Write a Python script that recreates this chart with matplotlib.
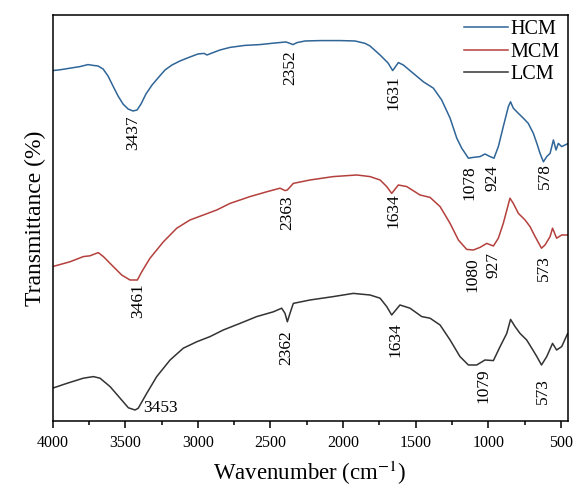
import numpy as np
import matplotlib
matplotlib.use("Agg")
import matplotlib.pyplot as plt
from matplotlib.ticker import MultipleLocator

plt.rcParams['font.family'] = ['Liberation Serif', 'DejaVu Serif']
plt.rcParams['mathtext.fontset'] = 'stix'

# FTIR spectra (transmittance in arbitrary offset units)
wn_hcm = [4000, 3948, 3880, 3811, 3756, 3721, 3687, 3652, 3618, 3584, 3549, 3515,
          3480, 3446, 3418, 3391, 3357, 3315, 3274, 3226, 3178, 3123, 3054, 2999,
          2957, 2937, 2902, 2847, 2778, 2675, 2572, 2469, 2393, 2366, 2345, 2317,
          2262, 2159, 2021, 1918, 1849, 1815, 1746, 1691, 1659, 1620, 1586, 1517,
          1448, 1379, 1322, 1264, 1218, 1184, 1138, 1104, 1058, 1024, 989, 962,
          932, 898, 863, 848, 829, 794, 760, 726, 691, 667, 645, 622, 599, 576,
          553, 535, 519, 496, 456]
t_hcm = [87.6, 87.8, 88.2, 88.6, 89.1, 88.9, 88.75, 88.0, 86.25, 83.75, 81.25, 79.25,
         78.0, 77.5, 77.75, 79.25, 81.75, 84.0, 85.75, 87.75, 89.0, 90.0, 91.0, 91.75,
         91.9, 91.5, 92.0, 92.75, 93.4, 93.9, 94.1, 94.5, 94.75, 94.4, 94.1, 94.6,
         95.0, 95.1, 95.1, 95.0, 94.4, 93.75, 91.5, 89.5, 87.6, 89.6, 89.0, 86.9,
         84.8, 83.2, 80.25, 75.7, 70.7, 68.2, 65.7, 65.9, 66.1, 66.75, 66.1, 65.7,
         68.6, 73.6, 78.6, 79.8, 78.2, 76.9, 75.7, 74.4, 71.9, 69.4, 66.9, 64.8, 66.1, 66.9,
         70.25, 67.75, 69.4, 68.6, 69.3]

wn_mcm = [4000, 3880, 3788, 3742, 3685, 3650, 3582, 3524, 3467, 3416, 3386, 3329,
          3237, 3145, 3054, 2962, 2870, 2778, 2641, 2526, 2434, 2400, 2384, 2343,
          2228, 2068, 1906, 1815, 1746, 1700, 1666, 1620, 1562, 1471, 1402, 1333,
          1264, 1207, 1150, 1104, 1058, 1012, 966, 932, 898, 852, 829, 794, 748,
          714, 679, 635, 611, 576, 559, 531, 496, 456]
t_mcm = [38.6, 39.8, 41.1, 41.3, 42.1, 41.1, 38.6, 36.5, 35.25, 35.25, 37.3, 40.7,
         44.8, 48.2, 50.25, 51.5, 52.75, 54.4, 56.1, 57.3, 58.2, 57.6, 57.75, 59.4,
         60.25, 61.1, 61.5, 61.1, 60.25, 58.6, 56.9, 59.0, 58.6, 56.5, 55.9, 53.6,
         49.4, 45.25, 42.9, 42.75, 43.4, 44.4, 43.75, 45.7, 49.4, 55.7, 54.4, 51.9, 50.25,
         48.6, 46.1, 43.2, 44.0, 46.1, 48.2, 45.7, 46.5, 46.5]

wn_lcm = [4000, 3902, 3788, 3719, 3673, 3604, 3535, 3478, 3432, 3410, 3352, 3283,
          3191, 3100, 3008, 2916, 2825, 2710, 2595, 2480, 2423, 2400, 2384, 2366,
          2343, 2228, 2068, 1930, 1815, 1746, 1700, 1666, 1609, 1540, 1459, 1402,
          1333, 1264, 1196, 1138, 1081, 1024, 966, 920, 874, 848, 817, 783, 737,
          702, 667, 635, 599, 559, 531, 496, 456]
t_lcm = [8.2, 9.4, 10.7, 11.1, 10.7, 8.6, 5.7, 3.3, 2.75, 3.2, 6.9, 11.1,
         15.25, 18.2, 19.8, 21.1, 22.75, 24.4, 26.1, 27.3, 28.2, 26.9, 24.8, 26.9,
         29.4, 30.25, 31.1, 31.9, 31.5, 30.7, 28.6, 26.5, 29.0, 28.2, 26.1, 25.7,
         24.0, 20.25, 16.1, 14.0, 14.0, 15.25, 15.1, 18.6, 21.9, 25.4, 23.6, 21.9, 20.25,
         18.2, 16.1, 14.0, 16.1, 19.4, 17.75, 18.6, 21.8]

# peak labels: text, wavenumber, top of text
peaks_hcm = [("3437", 3446, 76.5), ("2352", 2366, 92.75), ("1631", 1651, 86.5),
             ("1078", 1128, 64.0), ("924", 975, 64.0), ("578", 611, 64.5)]
peaks_mcm = [("3461", 3412, 34.5), ("2363", 2386, 56.5), ("1634", 1657, 57.0),
             ("1080", 1113, 41.0), ("927", 968, 42.25), ("573", 617, 41.5)]
peaks_lcm = [("2362", 2393, 22.75), ("1634", 1643, 24.75),
             ("1079", 1037, 13.25), ("573", 624, 10.75)]

fig = plt.figure(figsize=(5.74, 4.88), dpi=100)
ax = fig.add_axes([0.0915, 0.1373, 0.8972, 0.832])

ax.plot(wn_hcm, t_hcm, color='#2f6597', lw=1.1, label='HCM')
ax.plot(wn_mcm, t_mcm, color='#b4403d', lw=1.1, label='MCM')
ax.plot(wn_lcm, t_lcm, color='#333333', lw=1.1, label='LCM')

for peaks in (peaks_hcm, peaks_mcm, peaks_lcm):
    for txt, x, y in peaks:
        ax.text(x, y, txt, rotation=90, ha='center', va='top', fontsize=12.5)
ax.text(3377, 3.25, "3453", ha='left', va='center', fontsize=12.5)

ax.set_xlim(4000, 456)
ax.set_ylim(0, 101.5)
ax.xaxis.set_major_locator(MultipleLocator(500))
ax.xaxis.set_minor_locator(MultipleLocator(250))
ax.tick_params(axis='x', which='major', direction='out', length=5, width=1.1,
               labelsize=11.5, pad=5)
ax.tick_params(axis='x', which='minor', direction='out', length=3, width=1.1)
ax.set_yticks([])
for s in ax.spines.values():
    s.set_linewidth(1.1)

ax.set_xlabel('Wavenumber (cm$^{-1}$)', fontsize=16.5, labelpad=6)
ax.set_ylabel('Transmittance (%)', fontsize=17, labelpad=5)

ax.legend(loc='upper right', bbox_to_anchor=(1.0, 1.008), frameon=False,
          fontsize=14.5, handlelength=2.2, handletextpad=0.1,
          labelspacing=0.18, borderaxespad=0)

fig.savefig('out.png', dpi=100)
